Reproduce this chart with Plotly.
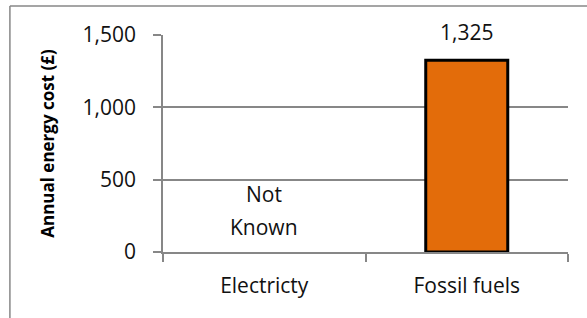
import plotly.graph_objects as go

categories = ["Electricty", "Fossil fuels"]
values = [None, 1325]
bar_label = "1,325"
missing_lines = ["Not", "Known"]
missing_line_y = [404, 176]
y_ticks = [0, 500, 1000, 1500]
y_tick_labels = ["0", "500", "1,000", "1,500"]

FONT = "Open Sans, Liberation Sans, sans-serif"
GRID = "#878787"
TXT = "#111111"

fig = go.Figure()
fig.add_trace(go.Bar(
    x=categories, y=values, width=0.405,
    marker=dict(color="#E36C0A", line=dict(color="#000000", width=3)),
    hoverinfo="skip",
))

# value label above the fossil fuels bar
fig.add_annotation(x=categories[1], y=values[1], text=bar_label, showarrow=False,
                   yanchor="middle", yshift=28, font=dict(family=FONT, size=21, color=TXT))

for txt, yv in zip(missing_lines, missing_line_y):
    fig.add_annotation(x=categories[0], y=yv, text=txt, showarrow=False,
                       font=dict(family=FONT, size=21, color=TXT))

# Outer chart border (top and left edges only visible)
fig.add_shape(type="line", xref="paper", yref="paper", x0=-0.378, x1=1.1, y0=1.134, y1=1.134,
              line=dict(color=GRID, width=1.5))
fig.add_shape(type="line", xref="paper", yref="paper", x0=-0.378, x1=-0.378, y0=1.134, y1=-0.4,
              line=dict(color=GRID, width=1.5))

fig.update_layout(
    width=587, height=318,
    margin=dict(l=163, r=19, t=35, b=66),
    plot_bgcolor="white", paper_bgcolor="white",
    showlegend=False,
    font=dict(family=FONT, size=21, color=TXT),
)
fig.update_yaxes(
    range=[0, 1500], tickvals=y_ticks, ticktext=y_tick_labels,
    showgrid=True, gridcolor=GRID, gridwidth=1.5,
    showline=True, linecolor=GRID, linewidth=1.5,
    ticks="outside", ticklen=8, tickcolor=GRID, tickwidth=1.5,
    ticklabelstandoff=13,
    tickfont=dict(family=FONT, size=21, color=TXT),
    title=dict(text="<b>Annual energy cost (£)</b>", font=dict(family=FONT, size=17, color="#000000"), standoff=24),
    zeroline=False,
)
fig.update_xaxes(
    showline=True, linecolor=GRID, linewidth=1.5,
    ticks="outside", ticklen=8, tickcolor=GRID, tickwidth=1.5,
    tickson="boundaries", ticklabelstandoff=14,
    tickfont=dict(family=FONT, size=21, color=TXT),
)

fig.write_html("out.html", config={"displayModeBar": False},
               post_script="document.body.style.margin='0';")
